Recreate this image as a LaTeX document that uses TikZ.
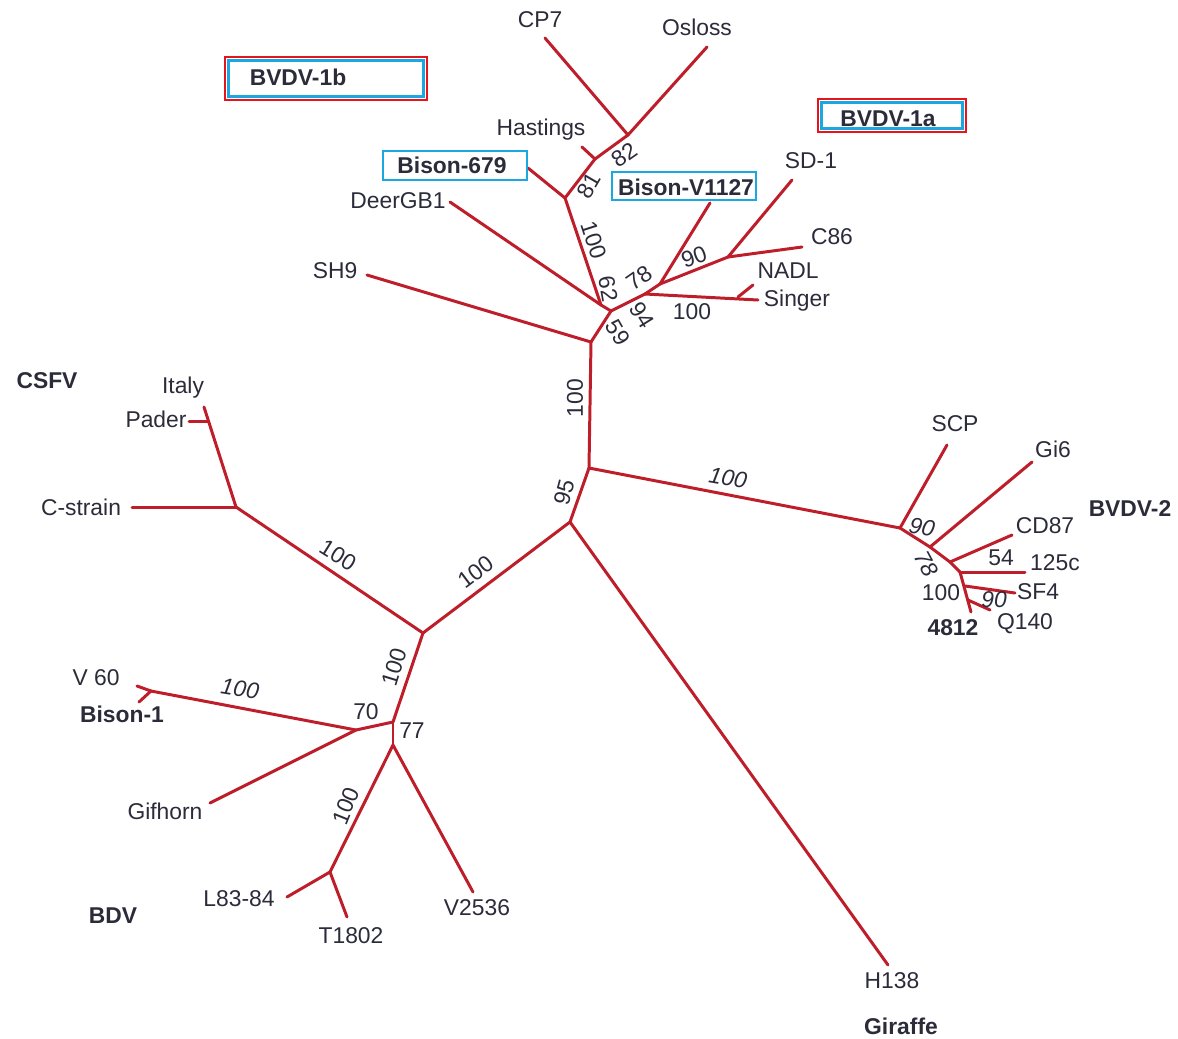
\documentclass[tikz,border=0pt]{standalone}
\usepackage{fontspec}
\setmainfont{Liberation Sans}
\definecolor{treered}{HTML}{BE1E2A}
\definecolor{boxblue}{HTML}{1BA8E0}
\definecolor{boxred}{HTML}{E8141B}
\definecolor{ink}{HTML}{2B2B3A}

\begin{document}
\begin{tikzpicture}[
	x=0.02cm, y=-0.02cm,
	font=\fontsize{13}{15}\selectfont,
	br/.style={draw=treered, line width=1.7pt, line cap=round},
	lf/.style={inner sep=0pt, text=ink},
	lfb/.style={lf, font=\fontsize{13}{15}\selectfont\bfseries},
	bs/.style={inner sep=0pt, text=ink},
	bsi/.style={bs, font=\fontsize{13}{15}\selectfont\itshape},
	outbox/.style={draw=boxred, line width=1pt},
	inbox/.style={draw=boxblue, line width=1.6pt},
	]
\useasboundingbox (0,0) rectangle (1178,1039);
% inner nodes
\coordinate (r1) at (589,468);
\coordinate (t) at (591,342);
\coordinate (a) at (611,311);
\coordinate (a2) at (601,305);
\coordinate (b) at (645,294);
\coordinate (c) at (660,284);
\coordinate (d) at (728,257);
\coordinate (ns) at (738,297);
\coordinate (e) at (565,198);
\coordinate (f) at (595,159);
\coordinate (g) at (628,135);
\coordinate (h) at (900,528);
\coordinate (i) at (930,547);
\coordinate (j) at (950,562);
\coordinate (k) at (960,572);
\coordinate (k2) at (965,586);
\coordinate (k3) at (968,600);
\coordinate (p) at (570,522);
\coordinate (q) at (423,633);
\coordinate (s) at (236,507);
\coordinate (pf) at (208,421);
\coordinate (u) at (393,722);
\coordinate (v) at (356,730);
\coordinate (w) at (151,691);
\coordinate (x) at (393,745);
\coordinate (y) at (330,872);
% leaf ends
\coordinate (cp7) at (545,38);
\coordinate (oslo) at (707,47);
\coordinate (hast) at (582,147);
\coordinate (b679) at (528,168);
\coordinate (deer) at (450,202);
\coordinate (sh9) at (367,275);
\coordinate (v1127) at (710,203);
\coordinate (sd1) at (792,180);
\coordinate (c86) at (802,247);
\coordinate (sing) at (758,300);
\coordinate (nadl) at (753,285);
\coordinate (scp) at (947,445);
\coordinate (gi6) at (1032,462);
\coordinate (cd87) at (1012,535);
\coordinate (c125) at (1025,572);
\coordinate (sf4) at (1015,593);
\coordinate (q140) at (990,610);
\coordinate (s4812) at (971,612);
\coordinate (h138) at (888,965);
\coordinate (cstr) at (132,507);
\coordinate (italy) at (204,407);
\coordinate (pader) at (189,421);
\coordinate (v60) at (137,686);
\coordinate (bis1) at (139,702);
\coordinate (gif) at (210,803);
\coordinate (l83) at (287,897);
\coordinate (t1802) at (347,917);
\coordinate (v2536) at (473,892);
% branches
\draw[br] (g) -- (cp7);
\draw[br] (g) -- (oslo);
\draw[br] (f) -- (g);
\draw[br] (f) -- (hast);
\draw[br] (e) -- (f);
\draw[br] (e) -- (b679);
\draw[br] (a2) -- (e);
\draw[br] (a2) -- (deer);
\draw[br] (a) -- (a2);
\draw[br] (t) -- (sh9);
\draw[br] (t) -- (a);
\draw[br] (a) -- (b);
\draw[br] (b) -- (c);
\draw[br] (c) -- (v1127);
\draw[br] (c) -- (d);
\draw[br] (d) -- (sd1);
\draw[br] (d) -- (c86);
\draw[br] (b) -- (sing);
\draw[br] (ns) -- (nadl);
\draw[br] (r1) -- (t);
\draw[br] (r1) -- (h);
\draw[br] (h) -- (scp);
\draw[br] (h) -- (i);
\draw[br] (i) -- (gi6);
\draw[br] (i) -- (j);
\draw[br] (j) -- (cd87);
\draw[br] (j) -- (k);
\draw[br] (k) -- (c125);
\draw[br] (k) -- (s4812);
\draw[br] (k2) -- (sf4);
\draw[br] (k3) -- (q140);
\draw[br] (r1) -- (p);
\draw[br] (p) -- (h138);
\draw[br] (p) -- (q);
\draw[br] (q) -- (s);
\draw[br] (s) -- (cstr);
\draw[br] (s) -- (italy);
\draw[br] (pf) -- (pader);
\draw[br] (q) -- (u);
\draw[br] (u) -- (v);
\draw[br] (v) -- (w);
\draw[br] (w) -- (v60);
\draw[br] (w) -- (bis1);
\draw[br] (v) -- (gif);
\draw[br] (u) -- (x);
\draw[br] (x) -- (y);
\draw[br] (y) -- (l83);
\draw[br] (y) -- (t1802);
\draw[br] (x) -- (v2536);
% bootstrap values
\node[bs, rotate=35] (n82) at (624,155) {82};
\node[bs, rotate=60] (n81) at (589,186) {81};
\node[bs, rotate=-72] (n100e) at (594,240) {100};
\node[bs, rotate=-80] (n62) at (608,289) {62};
\node[bs, rotate=35] (n78) at (639,278) {78};
\node[bs, rotate=20] (n90) at (694,257) {90};
\node[bs, rotate=-58] (n94) at (642,315) {94};
\node[bs] (n100s) at (692,312) {100};
\node[bs, rotate=-60] (n59) at (618,333) {59};
\node[bs, rotate=90] (n100t) at (575,398) {100};
\node[bs, rotate=75] (n95) at (564,492) {95};
\node[bsi, rotate=-10] (n100h) at (728,478) {100};
\node[bsi, rotate=-12] (n90i) at (922,527) {90};
\node[bsi, rotate=-62] (n78j) at (926,564) {78};
\node[bs] (n54) at (1001,558) {54};
\node[bs] (n100k) at (941,593) {100};
\node[bsi] (n90k) at (994,600) {90};
\node[bs, rotate=37] (n100p) at (476,572) {100};
\node[bs, rotate=-32] (n100q) at (338,555) {100};
\node[bs, rotate=73] (n100u) at (394,667) {100};
\node[bs] (n70) at (366,712) {70};
\node[bs] (n77) at (412,731) {77};
\node[bsi, rotate=-9] (n100w) at (240,689) {100};
\node[bs, rotate=68] (n100y) at (346,806) {100};
% taxa
\node[lf] (lcp7) at (540,20) {CP7};
\node[lf] (loslo) at (697,27) {Osloss};
\node[lf] (lhast) at (541,130) {Hastings};
\node[lfb] (lb679) at (452,165) {Bison-679};
\node[lf] (ldeer) at (398,201) {DeerGB1};
\node[lf] (lsh9) at (335,271) {SH9};
\node[lfb] (lv1127) at (686,187) {Bison-V1127};
\node[lf] (lsd1) at (811,161) {SD-1};
\node[lf] (lc86) at (832,237) {C86};
\node[lf] (lnadl) at (788,271) {NADL};
\node[lf] (lsing) at (797,301) {Singer};
\node[lf] (lscp) at (955,424) {SCP};
\node[lf] (lgi6) at (1053,449) {Gi6};
\node[lf] (lcd87) at (1045,526) {CD87};
\node[lf] (lc125) at (1055,563) {125c};
\node[lf] (lsf4) at (1038,592) {SF4};
\node[lf] (lq140) at (1025,624) {Q140};
\node[lfb] (l4812) at (953,628) {4812};
\node[lf] (lh138) at (892,981) {H138};
\node[lf] (litaly) at (183,388) {Italy};
\node[lf] (lpader) at (156,419) {Pader};
\node[lf] (lcstr) at (81,507) {C-strain};
\node[lf] (lv60) at (96,678) {V 60};
\node[lfb] (lbis1) at (122,714) {Bison-1};
\node[lf] (lgif) at (165,811) {Gifhorn};
\node[lf] (ll83) at (239,899) {L83-84};
\node[lf] (lt1802) at (351,936) {T1802};
\node[lf] (lv2536) at (477,908) {V2536};
% groups
\node[lfb] (g1b) at (298,77) {BVDV-1b};
\node[lfb] (g1a) at (888,119) {BVDV-1a};
\node[lfb] (g2) at (1130,509) {BVDV-2};
\node[lfb] (gcsfv) at (47,381) {CSFV};
\node[lfb] (gbdv) at (113,916) {BDV};
\node[lfb] (ggir) at (901,1026) {Giraffe};
\draw[outbox] (225,57) rectangle (427,100);
\draw[inbox] (228.5,60.5) rectangle (423.5,96.5);
\draw[outbox] (818,99) rectangle (966,132);
\draw[inbox] (821.5,102.5) rectangle (962.5,128.5);
\draw[inbox] (383,151) rectangle (527,180);
\draw[inbox] (612,172) rectangle (756,200);
\end{tikzpicture}
\end{document}
